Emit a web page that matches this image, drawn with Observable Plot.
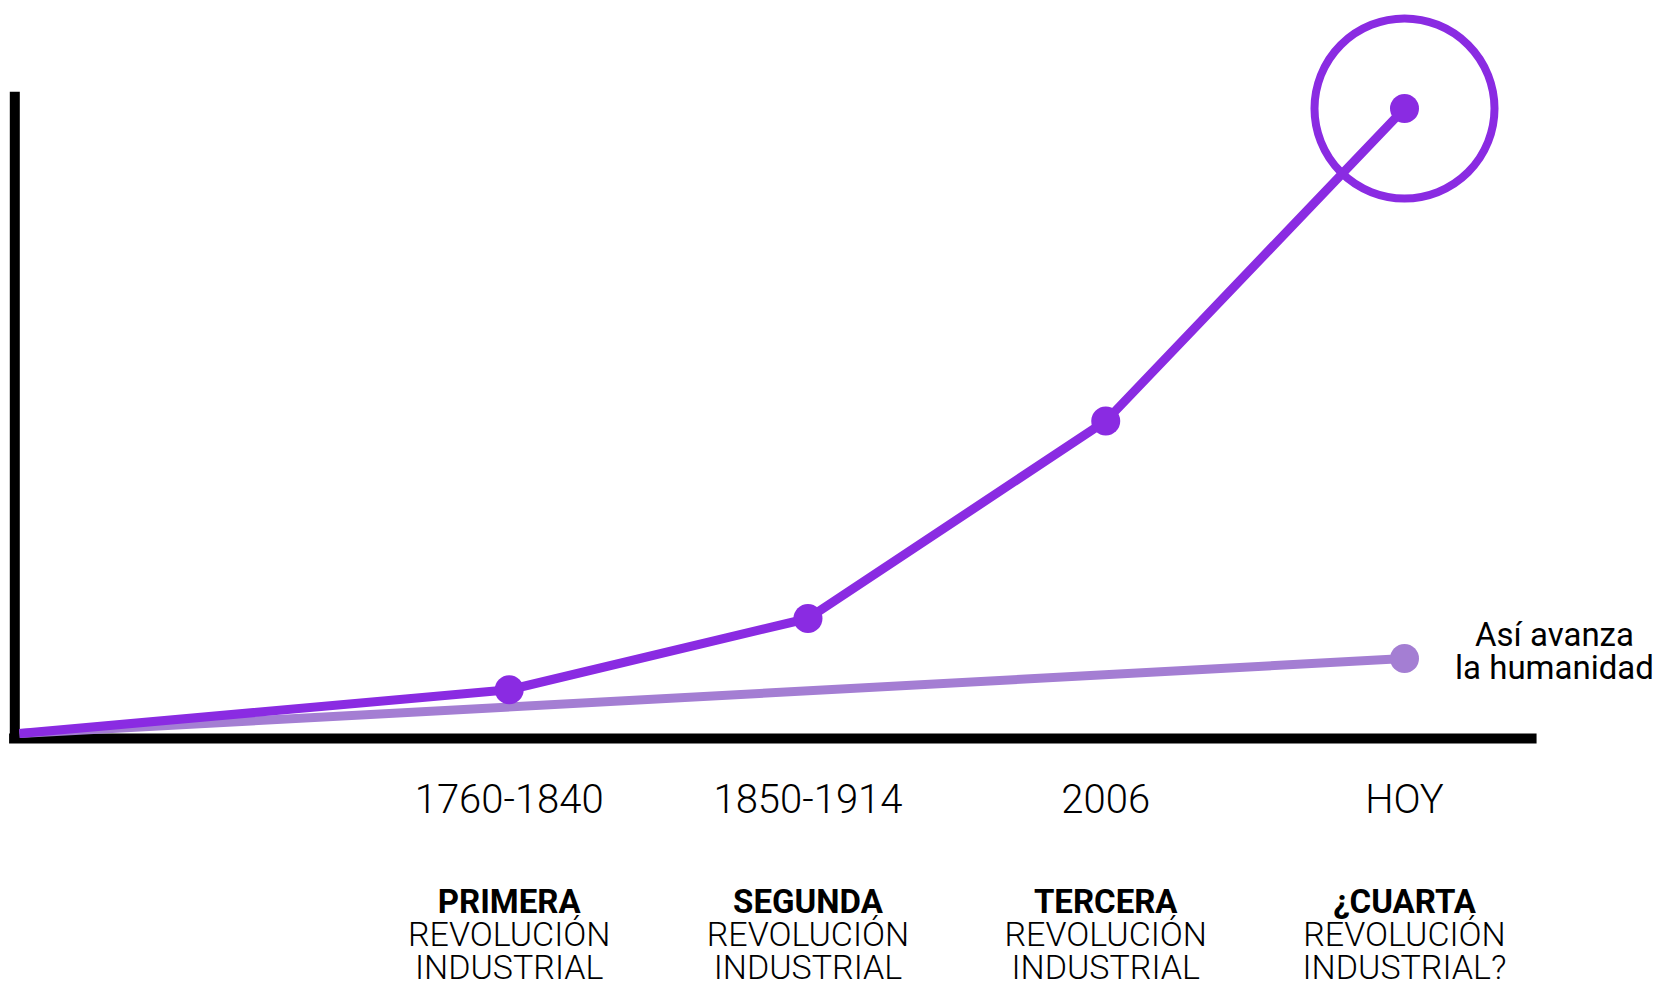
<!DOCTYPE html>
<html>
<head>
<meta charset="utf-8">
<script src="https://cdn.jsdelivr.net/npm/d3@7"></script>
<script src="https://cdn.jsdelivr.net/npm/@observablehq/plot@0.6"></script>
<style>
  html, body { margin: 0; padding: 0; background: #ffffff; }
  #chart svg { display: block; }
</style>
</head>
<body>
<div id="chart"></div>
<script>
// ---- data ----
const periods = ["1760-1840", "1850-1914", "2006", "HOY"];
const ordinals = ["PRIMERA", "SEGUNDA", "TERCERA", "¿CUARTA"];
const revolutionText = ["REVOLUCIÓN\nINDUSTRIAL", "REVOLUCIÓN\nINDUSTRIAL", "REVOLUCIÓN\nINDUSTRIAL", "REVOLUCIÓN\nINDUSTRIAL?"];
const timeSteps = [4.95, 7.97, 10.98, 14];   // position of each revolution on the time axis (start = 0)
const revolutionValues = [7, 18.4, 50, 100]; // technological progress
const humanitySteps = [0, 14];
const humanityValues = [0, 12];
const humanityLabel = "Así avanza\nla humanidad";

const purple = "#8a2be2";
const lightPurple = "#a47ed3";

const revolutions = periods.map((p, i) => ({
  x: timeSteps[i], y: revolutionValues[i], period: p, ordinal: ordinals[i], rest: revolutionText[i]
}));
const mainLine = [{x: 0, y: 0}, ...revolutions];
const humanity = humanitySteps.map((x, i) => ({x, y: humanityValues[i]}));
const latest = revolutions[revolutions.length - 1];
const humanityEnd = humanity[humanity.length - 1];

const chart = Plot.plot({
  width: 1659,
  height: 984,
  marginLeft: 19,
  marginRight: 255,
  marginTop: 108,
  marginBottom: 251,
  x: {domain: [0, 14], axis: null},
  y: {domain: [0, 100], axis: null},
  style: {fontFamily: "Roboto, 'Noto Sans', sans-serif", background: "#ffffff", color: "#000"},
  marks: [
    // axes
    Plot.ruleX([0], {y1: -1.6, y2: 102.6, dx: -4.7, stroke: "#000", strokeWidth: 10}),
    Plot.ruleY([0], {x1: -0.1, x2: 15.34, dy: 5, stroke: "#000", strokeWidth: 10}),
    // humanity line
    Plot.line(humanity, {x: "x", y: "y", stroke: lightPurple, strokeWidth: 9, strokeLinecap: "butt"}),
    Plot.dot([humanityEnd], {x: "x", y: "y", r: 14.5, fill: lightPurple, stroke: "none"}),
    // revolutions line
    Plot.line(mainLine, {x: "x", y: "y", stroke: purple, strokeWidth: 9, strokeLinecap: "butt", strokeLinejoin: "round"}),
    Plot.dot(revolutions, {x: "x", y: "y", r: 14.5, fill: purple, stroke: "none"}),
    Plot.dot([latest], {x: "x", y: "y", r: 90, fill: "none", stroke: purple, strokeWidth: 8}),
    // tick labels
    Plot.text(revolutions, {x: "x", text: "period", frameAnchor: "bottom", lineAnchor: "bottom", dy: 79,
      fontSize: 40, fontWeight: 300, fill: "#000"}),
    Plot.text(revolutions, {x: "x", text: "ordinal", frameAnchor: "bottom", lineAnchor: "bottom", dy: 179,
      fontSize: 33, fontWeight: 700, fill: "#000"}),
    Plot.text(revolutions, {x: "x", text: "rest", frameAnchor: "bottom", lineAnchor: "bottom", dy: 245,
      fontSize: 34, fontWeight: 300, lineHeight: 0.97, fill: "#000"}),
    // humanity label
    Plot.text([humanityEnd], {x: "x", y: "y", text: () => humanityLabel, lineAnchor: "bottom", dx: 150, dy: 20,
      fontSize: 33, fontWeight: 400, lineHeight: 1.0, fill: "#000"})
  ]
});
document.getElementById("chart").appendChild(chart);
</script>
</body>
</html>
